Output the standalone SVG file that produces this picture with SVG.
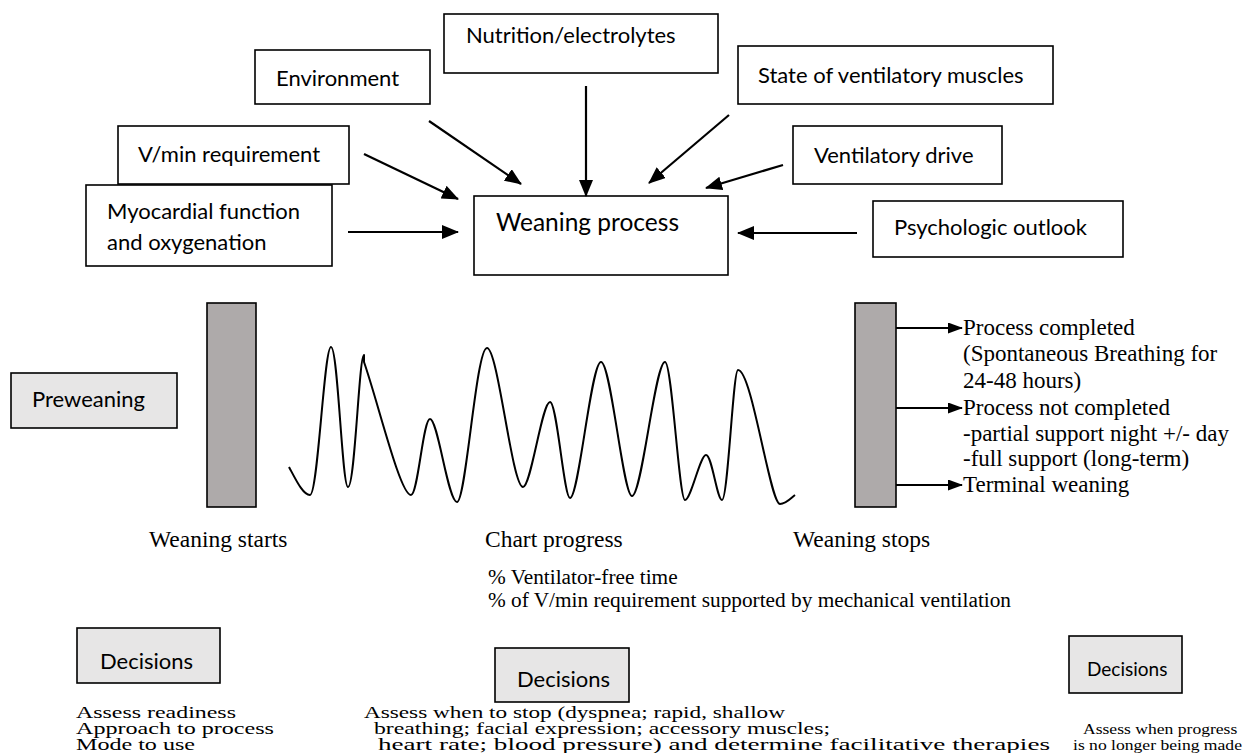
<svg xmlns="http://www.w3.org/2000/svg" width="1250" height="753" viewBox="0 0 1250 753">
<style>
.bx{fill:#fff;stroke:#000;stroke-width:1.6}
.gb{fill:#e7e6e6;stroke:#000;stroke-width:1.6}
.bar{fill:#aeaaaa;stroke:#000;stroke-width:1.6}
.c{font-family:Lato,"Noto Sans",sans-serif;font-size:22px;fill:#000}
.big{font-size:24.5px}
.sm{font-size:19px}
.t{font-family:"Liberation Serif","Times New Roman",serif;font-size:23px;fill:#000}
.l{font-size:23.5px}
.s{font-size:21.3px}
.b{font-size:21px}
.r{font-size:17.6px}
.ar{stroke:#000;stroke-width:2.2;fill:none;marker-end:url(#ah)}
.ar2{stroke:#000;stroke-width:2;fill:none;marker-end:url(#ah2)}
.wave{stroke:#000;stroke-width:2;fill:none;stroke-linejoin:round}
</style>
<defs>
<marker id="ah" markerUnits="userSpaceOnUse" markerWidth="17" markerHeight="14" refX="16" refY="7" orient="auto"><path d="M0,0 L17,7 L0,14 z" fill="#000"/></marker>
<marker id="ah2" markerUnits="userSpaceOnUse" markerWidth="15" markerHeight="11" refX="14" refY="5.5" orient="auto"><path d="M0,0 L15,5.5 L0,11 z" fill="#000"/></marker>
</defs>

<g id="nutrition"><rect class="bx" x="444" y="14" width="274" height="59"/><text class="c" x="466" y="43">Nutrition/electrolytes</text></g>
<g id="environment"><rect class="bx" x="255" y="50" width="175" height="54"/><text class="c" x="276" y="86">Environment</text></g>
<g id="state"><rect class="bx" x="738" y="46" width="315" height="58"/><text class="c" x="758" y="83">State of ventilatory muscles</text></g>
<g id="vmin"><rect class="bx" x="118" y="126" width="231" height="58"/><text class="c" x="138" y="162">V/min requirement</text></g>
<g id="ventdrive"><rect class="bx" x="793" y="126" width="209" height="58"/><text class="c" x="814" y="163">Ventilatory drive</text></g>
<g id="myocardial"><rect class="bx" x="86" y="185" width="246" height="81"/><text class="c" x="107" y="219">Myocardial function</text><text class="c" x="107" y="250">and oxygenation</text></g>
<g id="weaning"><rect class="bx" x="474" y="196" width="254" height="79"/><text class="c big" x="496" y="231">Weaning process</text></g>
<g id="psych"><rect class="bx" x="873" y="201" width="250" height="56"/><text class="c" x="894" y="235">Psychologic outlook</text></g>

<g id="preweaning"><rect class="gb" x="11" y="373" width="166" height="55"/><text class="c" x="32" y="407">Preweaning</text></g>
<g id="start-bar"><rect class="bar" x="207" y="303" width="49" height="204"/></g>
<g id="stop-bar"><rect class="bar" x="855" y="303" width="41" height="204"/></g>

<g id="chart">
<path class="wave" d="M289,467 C296,480 303,495 310,495 C318,495 324,347 331,347 C338,347 342,487 348,487 C355,487 359,355 364,355 L364,362 C378,402 400,495 411,495 C418,495 423,419 430,419 C438,419 448,502 457,502 C466,502 476,348 487,348 C498,348 512,487 523,487 C531,487 542,402 550,402 C557,402 564,498 570,498 C579,498 591,362 601,362 C611,362 623,496 632,496 C642,496 655,362 665,362 C672,362 679,500 685,500 C691,500 700,455 706,455 C712,455 717,500 722,500 C728,500 733,370 738,370 C752,370 770,504 780,504 C786,504 791,498 795,495"/>
</g>

<g id="outcomes">
<text class="t" x="963" y="335">Process completed</text>
<text class="t" x="963" y="361">(Spontaneous Breathing for</text>
<text class="t" x="963" y="388">24-48 hours)</text>
<text class="t" x="963" y="415">Process not completed</text>
<text class="t" x="963" y="441">-partial support night +/- day</text>
<text class="t" x="963" y="466">-full support (long-term)</text>
<text class="t" x="963" y="492">Terminal weaning</text>
</g>

<g id="labels">
<text class="t l" x="149" y="547">Weaning starts</text>
<text class="t l" x="485" y="547">Chart progress</text>
<text class="t l" x="793" y="547">Weaning stops</text>
<text class="t s" x="488" y="584">% Ventilator-free time</text>
<text class="t s" x="488" y="607">% of V/min requirement supported by mechanical ventilation</text>
</g>

<g id="decisions1"><rect class="gb" x="77" y="628" width="143" height="55"/><text class="c" x="100" y="669">Decisions</text></g>
<g id="decisions2"><rect class="gb" x="495" y="648" width="134" height="54"/><text class="c" x="517" y="687">Decisions</text></g>
<g id="decisions3"><rect class="gb" x="1069" y="636" width="113" height="57"/><text class="c sm" x="1087" y="676">Decisions</text></g>

<g id="decision-texts" transform="scale(1,0.8)">
<text class="t b" x="76" y="898" textLength="160" lengthAdjust="spacingAndGlyphs">Assess readiness</text>
<text class="t b" x="76" y="918" textLength="198" lengthAdjust="spacingAndGlyphs">Approach to process</text>
<text class="t b" x="76" y="938" textLength="119" lengthAdjust="spacingAndGlyphs">Mode to use</text>
<text class="t b" x="364" y="898" textLength="421" lengthAdjust="spacingAndGlyphs">Assess when to stop (dyspnea; rapid, shallow</text>
<text class="t b" x="374" y="918" textLength="456" lengthAdjust="spacingAndGlyphs">breathing; facial expression; accessory muscles;</text>
<text class="t b" x="378" y="938" textLength="672" lengthAdjust="spacingAndGlyphs">heart rate; blood pressure) and determine facilitative therapies</text>
<text class="t r" x="1083" y="918">Assess when progress</text>
<text class="t r" x="1073" y="938">is no longer being made</text>
</g>

<g id="connectors">
<line class="ar" x1="364" y1="154" x2="458" y2="199"/>
<line class="ar" x1="429" y1="121" x2="521" y2="184"/>
<line class="ar" x1="586" y1="86" x2="586" y2="196"/>
<line class="ar" x1="729" y1="115" x2="649" y2="183"/>
<line class="ar" x1="783" y1="165" x2="706" y2="188"/>
<line class="ar" x1="348" y1="232" x2="458" y2="232"/>
<line class="ar" x1="857" y1="233" x2="738" y2="233"/>
<line class="ar2" x1="896" y1="328" x2="962" y2="328"/>
<line class="ar2" x1="896" y1="408" x2="962" y2="408"/>
<line class="ar2" x1="896" y1="485" x2="962" y2="485"/>
</g>
</svg>
